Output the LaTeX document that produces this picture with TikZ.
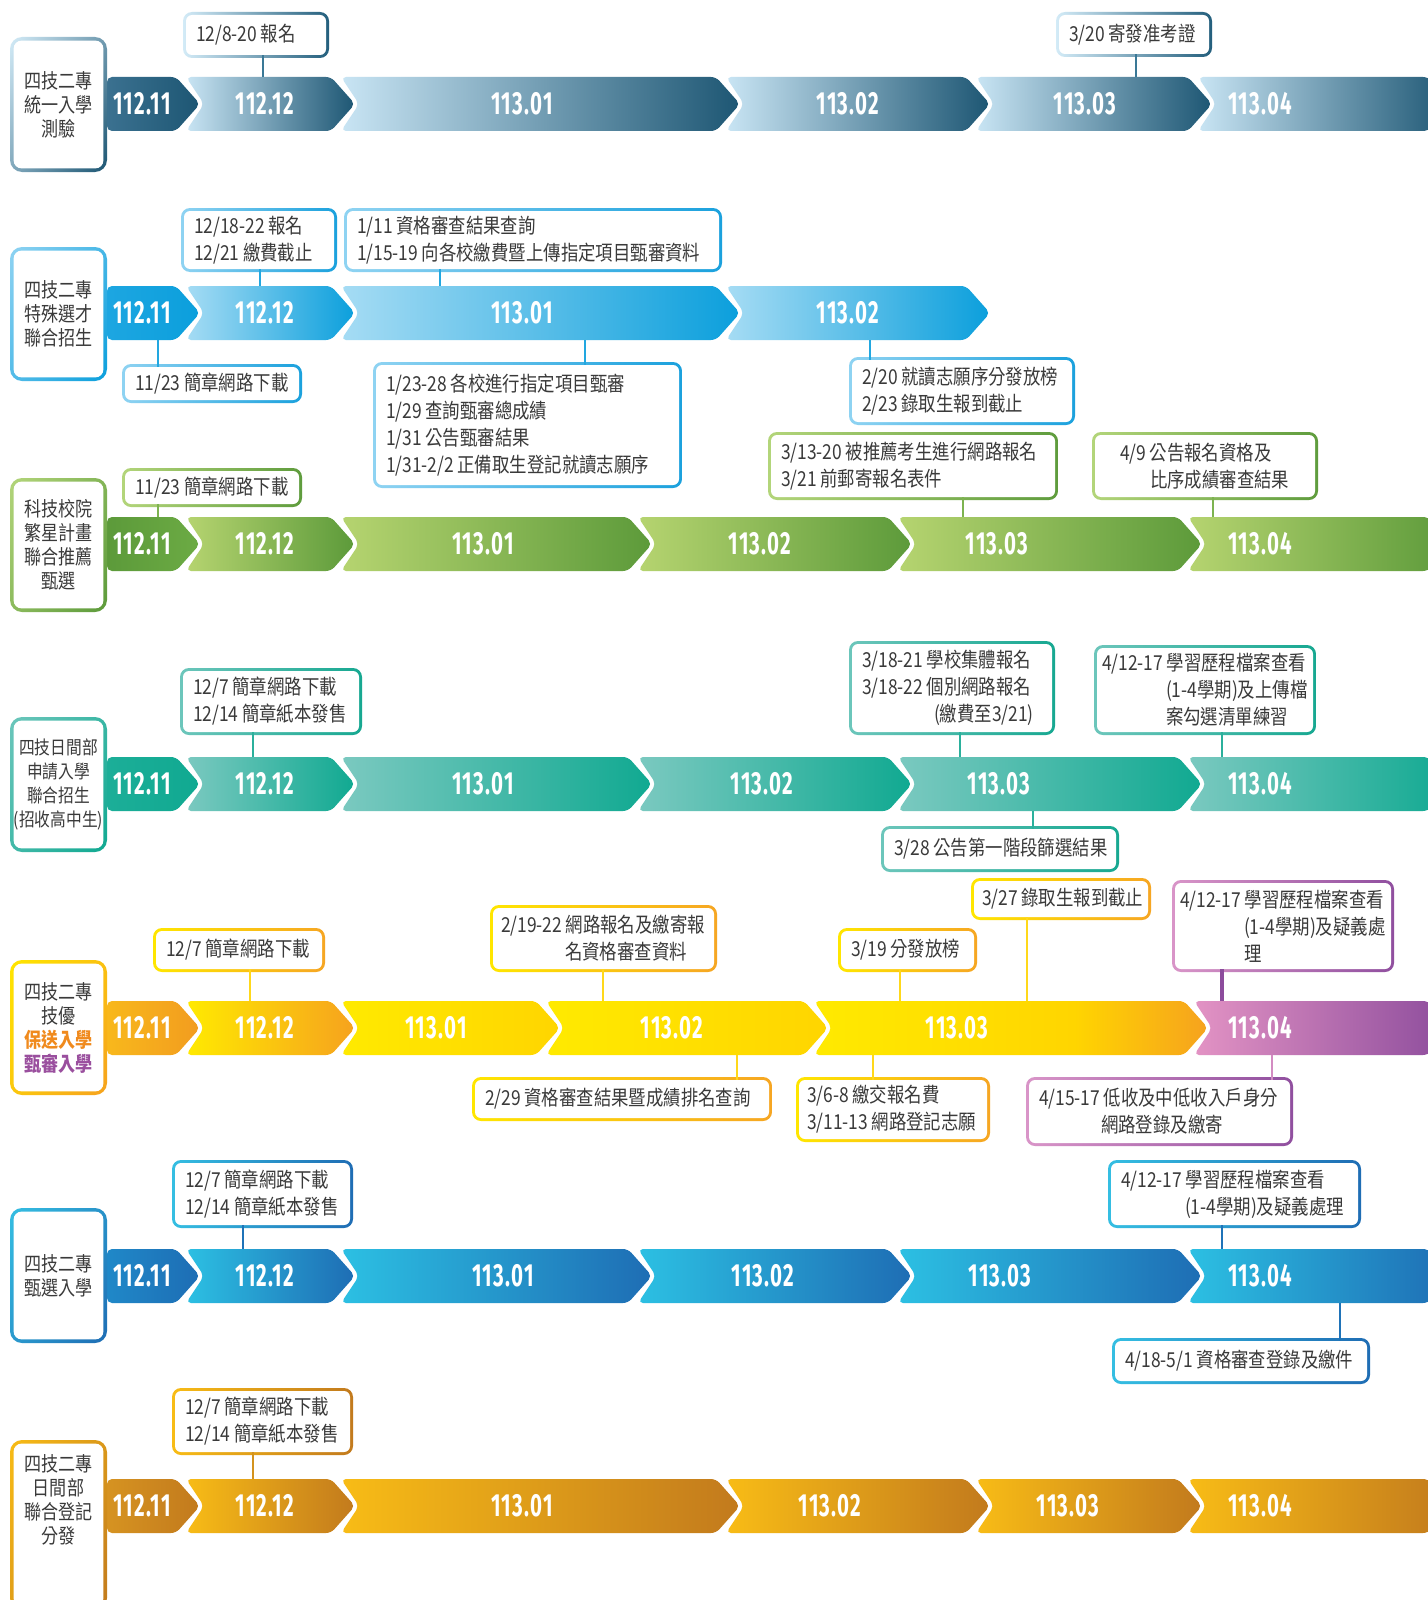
\documentclass[tikz,border=0pt]{standalone}
\usepackage{fontspec}
\usetikzlibrary{shadings}
\setmainfont{Noto Sans CJK TC}[FakeStretch=0.845]
\newfontfamily\monthfont{Fira Sans}[FakeStretch=0.64,LetterSpace=4]
\newcommand\dsp{\kern1.8pt}

\definecolor{txt}{HTML}{3A3A3A}
% row 1
\definecolor{r1L}{HTML}{C9E5F4}\definecolor{r1D}{HTML}{1D5673}\definecolor{r1a}{HTML}{3B7190}
\definecolor{r1cL}{HTML}{D3EBF7}\definecolor{r1cD}{HTML}{245F7D}\definecolor{l1}{HTML}{3A7896}
% row 2
\definecolor{r2L}{HTML}{A6DCF4}\definecolor{r2D}{HTML}{0B9FDC}\definecolor{r2a}{HTML}{1DA6E1}
\definecolor{r2cL}{HTML}{8FD3F2}\definecolor{r2cD}{HTML}{1BA1DD}\definecolor{l2}{HTML}{22A7E0}
% row 3
\definecolor{r3L}{HTML}{B6D470}\definecolor{r3D}{HTML}{5C9A3A}\definecolor{r3a}{HTML}{6CAB44}
\definecolor{r3cL}{HTML}{B3D57A}\definecolor{r3cD}{HTML}{5F9C3D}\definecolor{l3}{HTML}{7DB350}
% row 4
\definecolor{r4L}{HTML}{7BC9C0}\definecolor{r4D}{HTML}{10A991}\definecolor{r4a}{HTML}{1CAE98}
\definecolor{r4cL}{HTML}{6CC6BB}\definecolor{r4cD}{HTML}{17A891}\definecolor{l4}{HTML}{2BB09C}
% row 5
\definecolor{yA}{HTML}{FFEA00}\definecolor{yB}{HTML}{FFD500}\definecolor{oA}{HTML}{F6A21E}
\definecolor{oB}{HTML}{F29C1F}\definecolor{o0}{HTML}{F8B81C}
\definecolor{pL}{HTML}{E393C4}\definecolor{pD}{HTML}{8C4C9C}
\definecolor{ycL}{HTML}{FFE600}\definecolor{ycD}{HTML}{F6A623}
\definecolor{pcL}{HTML}{D995C8}\definecolor{pcD}{HTML}{904F9F}
\definecolor{l5}{HTML}{FFD81A}\definecolor{l5p}{HTML}{8C4C9C}\definecolor{l5k}{HTML}{D38CC2}
\definecolor{orT}{HTML}{F08A1D}\definecolor{puT}{HTML}{9A4F9E}
% row 6
\definecolor{r6L}{HTML}{2CC0E3}\definecolor{r6D}{HTML}{1E6DB4}\definecolor{r6a}{HTML}{1F88C8}
\definecolor{r6cL}{HTML}{35BEE2}\definecolor{r6cD}{HTML}{1F6DB4}\definecolor{l6}{HTML}{1F73B8}
% row 7
\definecolor{r7L}{HTML}{F8BC16}\definecolor{r7D}{HTML}{C27A1D}\definecolor{r7a}{HTML}{D69321}
\definecolor{l7}{HTML}{D3931F}

\pgfdeclarehorizontalshading{yor}{100bp}{color(0bp)=(yA); color(25bp)=(yA); color(58bp)=(yB); color(75bp)=(oA); color(100bp)=(oA)}

% segment: name, L, T, ymid, shading, label x, label, flat-left(1)/notch(0)
\newcommand\seg[8]{%
  \ifnum#8=1\relax
    \shade[#5,rounded corners=2.5pt] (#2,{#4-27}) -- ({#3-24},{#4-27}) -- (#3,#4) -- ({#3-24},{#4+27}) -- (#2,{#4+27}) -- cycle;
  \else
    \shade[#5,rounded corners=2.5pt] (#2,{#4-27}) -- ({#3-24},{#4-27}) -- (#3,#4) -- ({#3-24},{#4+27}) -- (#2,{#4+27}) -- ({#2+18},#4) -- cycle;
  \fi
  \node[mlabel] (#1) at (#6,#4) {#7};%
}
% callout: name, light, dark, xl, yt, xr, yb, text, pad(pt)
\newcommand\callout[9]{%
  \shade[left color=#2,right color=#3,rounded corners=4.5pt] (#4,#5) rectangle (#6,#7);
  \pgfmathsetmacro\cw{(#6-#4)*0.5-3}%
  \pgfmathsetmacro\ch{(#7-#5)*0.5-3}%
  \pgfmathsetmacro\tw{\cw-2*#9}%
  \node[cbox,inner xsep=#9pt,minimum height=\ch pt,text width=\tw pt] (#1) at ({(#4+#6)/2},{(#5+#7)/2}) {#8};%
}
% category box: name, upper-left colour, lower-right colour, ytop, ybottom, text
\newcommand\catbox[6]{%
  \shade[upper left=#2,lower right=#3,upper right=#2!45!#3,lower left=#2!55!#3,rounded corners=6pt] (10,#4) rectangle (107,#5);
  \pgfmathsetmacro\ch{(#5-#4)*0.5-3.6}%
  \node[catnode,minimum width=44.9pt,minimum height=\ch pt] (#1) at (58.5,{(#4+#5)/2}) {#6};%
}

\begin{document}
\begin{tikzpicture}[x=0.5pt,y=-0.5pt,
  mlabel/.style={text=white,font=\monthfont\fontsize{16}{16}\selectfont\bfseries,inner sep=0pt},
  cbox/.style={fill=white,rounded corners=3pt,inner ysep=0pt,align=left,text=txt,font=\fontsize{10.3}{13.5}\selectfont,
    execute at begin node={\exhyphenpenalty=10000\hyphenpenalty=10000\hbadness=10000\hfuzz=50pt\relax}},
  catnode/.style={fill=white,rounded corners=4pt,inner sep=0pt,align=center,text=txt,font=\fontsize{10.1}{12}\selectfont},
  conn/.style={line width=1pt},
  connw/.style={line width=1.6pt}]
\useasboundingbox (0,0) rectangle (1428,1600);
\clip (0,0) rectangle (1428,1600);
\fill[white] (0,0) rectangle (1428,1600);

%================ ROW 1 =================
\seg{m1a}{107}{200}{104}{left color=r1a,right color=r1D}{142}{112.11}{1}
\seg{m1b}{186}{355}{104}{left color=r1L,right color=r1D}{265}{112.12}{0}
\seg{m1c}{341}{740}{104}{left color=r1L,right color=r1D}{522}{113.01}{0}
\seg{m1d}{726}{990}{104}{left color=r1L,right color=r1D}{848}{113.02}{0}
\seg{m1e}{976}{1212}{104}{left color=r1L,right color=r1D}{1085}{113.03}{0}
\seg{m1f}{1198}{1452}{104}{left color=r1L,right color=r1D}{1260}{113.04}{0}
\catbox{k1}{r1cL}{r1D}{37}{172}{四技二專\\統一入學\\測驗}
\callout{A1}{r1cL}{r1cD}{183}{12}{329}{58}{12/8-20\dsp 報名}{5}
\callout{A2}{r1cL}{r1cD}{1056}{12}{1212}{57}{3/20\dsp 寄發准考證}{5}
\coordinate (pA1) at (263,77);
\coordinate (pA2) at (1136,77);
\draw[conn,l1] (A1.south -| pA1) -- (pA1);
\draw[conn,l1] (A2.south -| pA2) -- (pA2);

%================ ROW 2 =================
\seg{m2a}{107}{200}{313}{left color=r2a,right color=r2D}{142}{112.11}{1}
\seg{m2b}{186}{355}{313}{left color=r2L,right color=r2D}{265}{112.12}{0}
\seg{m2c}{341}{740}{313}{left color=r2L,right color=r2D}{522}{113.01}{0}
\seg{m2d}{726}{990}{313}{left color=r2L,right color=r2D}{848}{113.02}{0}
\catbox{k2}{r2cL}{r2D}{247}{381}{四技二專\\特殊選才\\聯合招生}
\callout{B1}{r2cL}{r2cD}{181}{208}{337}{272}{12/18-22\dsp 報名\\12/21\dsp 繳費截止}{5}
\callout{B2}{r2cL}{r2cD}{344}{208}{722}{272}{1/11\dsp 資格審查結果查詢\\1/15-19\dsp 向各校繳費暨上傳指定項目甄審資料}{5}
\callout{B3}{r2cL}{r2cD}{122}{364}{302}{403}{11/23\dsp 簡章網路下載}{5}
\callout{B4}{r2cL}{r2cD}{373}{362}{682}{488}{1/23-28\dsp 各校進行指定項目甄審\\1/29\dsp 查詢甄審總成績\\1/31\dsp 公告甄審結果\\1/31-2/2\dsp 正備取生登記就讀志願序}{5}
\callout{B5}{r2cL}{r2cD}{849}{357}{1075}{425}{2/20\dsp 就讀志願序分發放榜\\2/23\dsp 錄取生報到截止}{5}
\coordinate (pB1) at (260,286);
\coordinate (pB2) at (440,286);
\coordinate (pB3) at (158,340);
\coordinate (pB4) at (585,340);
\coordinate (pB5) at (870,340);
\draw[conn,l2] (B1.south -| pB1) -- (pB1);
\draw[conn,l2] (B2.south -| pB2) -- (pB2);
\draw[conn,l2] (B3.north -| pB3) -- (pB3);
\draw[conn,l2] (B4.north -| pB4) -- (pB4);
\draw[conn,l2] (B5.north -| pB5) -- (pB5);

%================ ROW 3 =================
\seg{m3a}{107}{200}{544}{left color=r3D,right color=r3a}{142}{112.11}{1}
\seg{m3b}{186}{355}{544}{left color=r3L,right color=r3D}{265}{112.12}{0}
\seg{m3c}{341}{652}{544}{left color=r3L,right color=r3D}{483}{113.01}{0}
\seg{m3d}{638}{912}{544}{left color=r3L,right color=r3D}{760}{113.02}{0}
\seg{m3e}{898}{1202}{544}{left color=r3L,right color=r3D}{997}{113.03}{0}
\seg{m3f}{1188}{1452}{544}{left color=r3L,right color=r3D}{1260}{113.04}{0}
\catbox{k3}{r3cL}{r3D}{478}{612}{科技校院\\繁星計畫\\聯合推薦\\甄選}
\callout{C1}{r3cL}{r3cD}{122}{468}{302}{507}{11/23\dsp 簡章網路下載}{5}
\callout{C2}{r3cL}{r3cD}{768}{432}{1058}{500}{3/13-20\dsp 被推薦考生進行網路報名\\3/21\dsp 前郵寄報名表件}{5}
\callout{C3}{r3cL}{r3cD}{1092}{432}{1318}{500}{\hspace*{7.5pt}4/9\dsp 公告報名資格及\\\hspace*{22.5pt}比序成績審查結果}{5}
\coordinate (pC1) at (158,517);
\coordinate (pC2) at (963,517);
\coordinate (pC3) at (1213,517);
\draw[conn,l3] (C1.south -| pC1) -- (pC1);
\draw[conn,l3] (C2.south -| pC2) -- (pC2);
\draw[conn,l3] (C3.south -| pC3) -- (pC3);

%================ ROW 4 =================
\seg{m4a}{107}{200}{784}{left color=r4a,right color=r4D}{142}{112.11}{1}
\seg{m4b}{186}{355}{784}{left color=r4L,right color=r4D}{265}{112.12}{0}
\seg{m4c}{341}{652}{784}{left color=r4L,right color=r4D}{483}{113.01}{0}
\seg{m4d}{638}{912}{784}{left color=r4L,right color=r4D}{762}{113.02}{0}
\seg{m4e}{898}{1202}{784}{left color=r4L,right color=r4D}{999}{113.03}{0}
\seg{m4f}{1188}{1452}{784}{left color=r4L,right color=r4D}{1260}{113.04}{0}
\catbox{k4}{r4cL}{r4D}{717}{852}{\fontsize{9.3}{12}\selectfont 四技日間部\\\fontsize{9.3}{12}\selectfont 申請入學\\\fontsize{9.3}{12}\selectfont 聯合招生\\\fontsize{9.3}{12}\selectfont (招收高中生)}
\callout{D1}{r4cL}{r4cD}{180}{668}{362}{735}{12/7\dsp 簡章網路下載\\12/14\dsp 簡章紙本發售}{5}
\callout{D2}{r4cL}{r4cD}{849}{641}{1055}{735}{3/18-21\dsp 學校集體報名\\3/18-22\dsp 個別網路報名\\\hspace*{36pt}(繳費至3/21)}{5}
\callout{D3}{r4cL}{r4cD}{1094}{645}{1316}{735}{4/12-17\dsp 學習歷程檔案查看\\\hspace*{32pt}(1-4學期)及上傳檔\\\hspace*{32pt}案勾選清單練習}{2.5}
\callout{D4}{r4cL}{r4cD}{881}{826}{1119}{872}{3/28\dsp 公告第一階段篩選結果}{5}
\coordinate (pD1) at (253,757);
\coordinate (pD2) at (960,757);
\coordinate (pD3) at (1222,757);
\coordinate (pD4) at (1033,811);
\draw[conn,l4] (D1.south -| pD1) -- (pD1);
\draw[conn,l4] (D2.south -| pD2) -- (pD2);
\draw[conn,l4] (D3.south -| pD3) -- (pD3);
\draw[conn,l4] (D4.north -| pD4) -- (pD4);

%================ ROW 5 =================
\seg{m5a}{107}{200}{1028}{left color=o0,right color=oB}{142}{112.11}{1}
\seg{m5b}{186}{355}{1028}{left color=yA,right color=oA}{265}{112.12}{0}
\seg{m5c}{341}{560}{1028}{left color=yA,right color=yB}{436}{113.01}{0}
\seg{m5d}{546}{828}{1028}{left color=yA,right color=yB}{672}{113.02}{0}
\seg{m5e}{814}{1208}{1028}{shading=yor}{957}{113.03}{0}
\seg{m5f}{1194}{1452}{1028}{left color=pL,right color=pD}{1260}{113.04}{0}
\catbox{k5}{ycL}{oA}{960}{1095}{四技二專\\技優\\{\color{orT}\bfseries 保送入學}\\{\color{puT}\bfseries 甄審入學}}
\callout{E1}{ycL}{ycD}{153}{928}{325}{972}{12/7\dsp 簡章網路下載}{5}
\callout{E2}{ycL}{ycD}{490}{905}{717}{972}{2/19-22\dsp 網路報名及繳寄報\\\hspace*{32pt}名資格審查資料}{4}
\callout{E3}{ycL}{ycD}{838}{928}{977}{972}{3/19\dsp 分發放榜}{5}
\callout{E4}{ycL}{ycD}{971}{878}{1151}{920}{3/27\dsp 錄取生報到截止}{4}
\callout{E5}{pcL}{pcD}{1172}{880}{1394}{972}{4/12-17\dsp 學習歷程檔案查看\\\hspace*{32pt}(1-4學期)及疑義處\\\hspace*{32pt}理}{2.5}
\callout{E6}{ycL}{ycD}{472}{1077}{772}{1121}{2/29\dsp 資格審查結果暨成績排名查詢}{5}
\callout{E7}{ycL}{ycD}{796}{1077}{990}{1142}{3/6-8\dsp 繳交報名費\\3/11-13\dsp 網路登記志願}{4}
\callout{E8}{pcL}{pcD}{1026}{1077}{1293}{1146}{4/15-17\dsp 低收及中低收入戶身分\\\hspace*{31pt}網路登錄及繳寄}{5}
\coordinate (pE1) at (250,1001);
\coordinate (pE2) at (603,1001);
\coordinate (pE3) at (900,1001);
\coordinate (pE4) at (1027,1001);
\coordinate (pE5) at (1222,1001);
\coordinate (pE6) at (737,1055);
\coordinate (pE7) at (873,1055);
\coordinate (pE8) at (1272,1055);
\draw[conn,l5] (E1.south -| pE1) -- (pE1);
\draw[conn,l5] (E2.south -| pE2) -- (pE2);
\draw[conn,l5] (E3.south -| pE3) -- (pE3);
\draw[conn,l5] (E4.south -| pE4) -- (pE4);
\draw[connw,l5p] (E5.south -| pE5) -- (pE5);
\draw[conn,l5] (E6.north -| pE6) -- (pE6);
\draw[conn,l5] (E7.north -| pE7) -- (pE7);
\draw[conn,l5k] (E8.north -| pE8) -- (pE8);

%================ ROW 6 =================
\seg{m6a}{107}{200}{1276}{left color=r6a,right color=r6D}{142}{112.11}{1}
\seg{m6b}{186}{355}{1276}{left color=r6L,right color=r6D}{265}{112.12}{0}
\seg{m6c}{341}{652}{1276}{left color=r6L,right color=r6D}{503}{113.01}{0}
\seg{m6d}{638}{912}{1276}{left color=r6L,right color=r6D}{763}{113.02}{0}
\seg{m6e}{898}{1202}{1276}{left color=r6L,right color=r6D}{1000}{113.03}{0}
\seg{m6f}{1188}{1452}{1276}{left color=r6L,right color=r6D}{1260}{113.04}{0}
\catbox{k6}{r6cL}{r6D}{1208}{1343}{四技二專\\甄選入學}
\callout{F1}{r6cL}{r6cD}{172}{1160}{353}{1228}{12/7\dsp 簡章網路下載\\12/14\dsp 簡章紙本發售}{5}
\callout{F2}{r6cL}{r6cD}{1108}{1160}{1361}{1228}{4/12-17\dsp 學習歷程檔案查看\\\hspace*{32pt}(1-4學期)及疑義處理}{5}
\callout{F3}{r6cL}{r6cD}{1112}{1338}{1370}{1384}{4/18-5/1\dsp 資格審查登錄及繳件}{5}
\coordinate (pF1) at (243,1249);
\coordinate (pF2) at (1222,1249);
\coordinate (pF3) at (1340,1303);
\draw[conn,l6] (F1.south -| pF1) -- (pF1);
\draw[conn,l6] (F2.south -| pF2) -- (pF2);
\draw[conn,l6] (F3.north -| pF3) -- (pF3);

%================ ROW 7 =================
\seg{m7a}{107}{200}{1506}{left color=r7a,right color=r7D}{142}{112.11}{1}
\seg{m7b}{186}{355}{1506}{left color=r7L,right color=r7D}{265}{112.12}{0}
\seg{m7c}{341}{740}{1506}{left color=r7L,right color=r7D}{522}{113.01}{0}
\seg{m7d}{726}{990}{1506}{left color=r7L,right color=r7D}{830}{113.02}{0}
\seg{m7e}{976}{1202}{1506}{left color=r7L,right color=r7D}{1068}{113.03}{0}
\seg{m7f}{1188}{1452}{1506}{left color=r7L,right color=r7D}{1260}{113.04}{0}
\catbox{k7}{r7L}{r7D}{1440}{1610}{四技二專\\日間部\\聯合登記\\分發\\[14pt]}
\callout{G1}{r7L}{r7D}{172}{1388}{353}{1455}{12/7\dsp 簡章網路下載\\12/14\dsp 簡章紙本發售}{5}
\coordinate (pG1) at (253,1479);
\draw[conn,l7] (G1.south -| pG1) -- (pG1);
\end{tikzpicture}
\end{document}
